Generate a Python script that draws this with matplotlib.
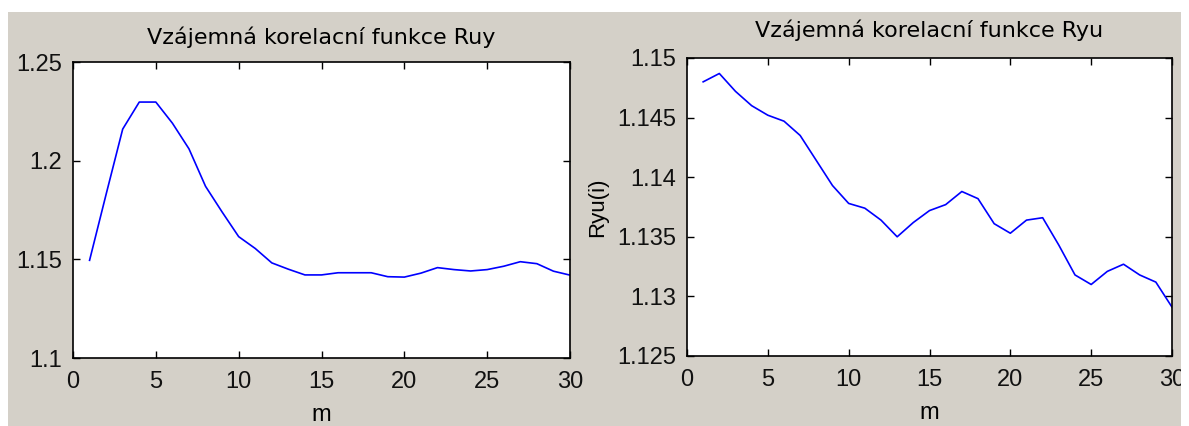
import numpy as np
import matplotlib
matplotlib.use('Agg')
import matplotlib.pyplot as plt
from matplotlib.patches import Rectangle
from matplotlib.transforms import Bbox, TransformedBbox

# lag m = 1..30
m = np.arange(1, 31)

ruy = [1.1495, 1.1830, 1.2160, 1.2297, 1.2297, 1.2190, 1.2060, 1.1870, 1.1740, 1.1615,
       1.1555, 1.1482, 1.1450, 1.1421, 1.1421, 1.1432, 1.1432, 1.1432, 1.1412, 1.1410,
       1.1430, 1.1458, 1.1448, 1.1441, 1.1448, 1.1465, 1.1488, 1.1478, 1.1440, 1.1420]

ryu = [1.1480, 1.1487, 1.1472, 1.1460, 1.1452, 1.1447, 1.1435, 1.1414, 1.1393, 1.1378,
       1.1374, 1.1364, 1.1350, 1.1362, 1.1372, 1.1377, 1.1388, 1.1382, 1.1361, 1.1353,
       1.1364, 1.1366, 1.1343, 1.1318, 1.1310, 1.1321, 1.1327, 1.1318, 1.1312, 1.1291]

xticks = [0, 5, 10, 15, 20, 25, 30]
ruy_ticks = [1.1, 1.15, 1.2, 1.25]
ruy_labels = ['1.1', '1.15', '1.2', '1.25']
ryu_ticks = [1.125, 1.13, 1.135, 1.14, 1.145, 1.15]
ryu_labels = ['1.125', '1.13', '1.135', '1.14', '1.145', '1.15']

W, H = 1189, 426
fig = plt.figure(figsize=(W / 100, H / 100), dpi=100, facecolor='white')
fig.patches.append(Rectangle((8 / W, 0), (1181 - 8) / W, (H - 12) / H,
                             transform=fig.transFigure, facecolor='#d4d0c8',
                             edgecolor='none', zorder=-10))

tick_font = dict(family='Liberation Sans', size=17)
title_font = dict(family='DejaVu Sans', size=16)


def style(ax, yt, yl, ylim):
    ax.set_facecolor('white')
    ax.set_xlim(0, 30)
    ax.set_ylim(*ylim)
    ax.set_xticks(xticks)
    ax.set_xticklabels([str(t) for t in xticks], fontdict=tick_font)
    ax.set_yticks(yt)
    ax.set_yticklabels(yl, fontdict=tick_font)
    ax.tick_params(direction='in', length=5, width=1, top=True, right=True,
                   color='black', labelcolor='#111111')
    ax.tick_params(axis='x', pad=9)
    ax.tick_params(axis='y', pad=8)
    for s in ax.spines.values():
        s.set_linewidth(1.2)
        s.set_color('black')
    ax.set_xlabel('m', fontdict=tick_font, labelpad=8)


ax1 = fig.add_axes([73 / W, 1 - 358 / H, (570 - 73) / W, (358 - 62) / H], zorder=1)
ax1.plot(m, ruy, color='#0000ff', linewidth=1.2)
style(ax1, ruy_ticks, ruy_labels, (1.1, 1.25))
ax1.set_title('Vzájemná korelacní funkce Ruy', fontdict=title_font, pad=13)

ax2 = fig.add_axes([687 / W, 1 - 356 / H, (1172 - 687) / W, (356 - 58) / H], zorder=1)
ax2.plot(m, ryu, color='#0000ff', linewidth=1.2)
style(ax2, ryu_ticks, ryu_labels, (1.125, 1.15))
ax2.set_title('Vzájemná korelacní funkce Ryu', fontdict=title_font, pad=15)
ax2.set_ylabel('Ryu(i)', fontdict=dict(family='Liberation Sans', size=16), labelpad=6)

# the original screenshot is cut at the right edge of the grey panel
clip = TransformedBbox(Bbox([[0, 0], [1181 / W, 1]]), fig.transFigure)
for lab in ax2.get_xticklabels():
    lab.set_clip_box(clip)
    lab.set_clip_on(True)

fig.savefig('out.png', dpi=100, facecolor='white')
